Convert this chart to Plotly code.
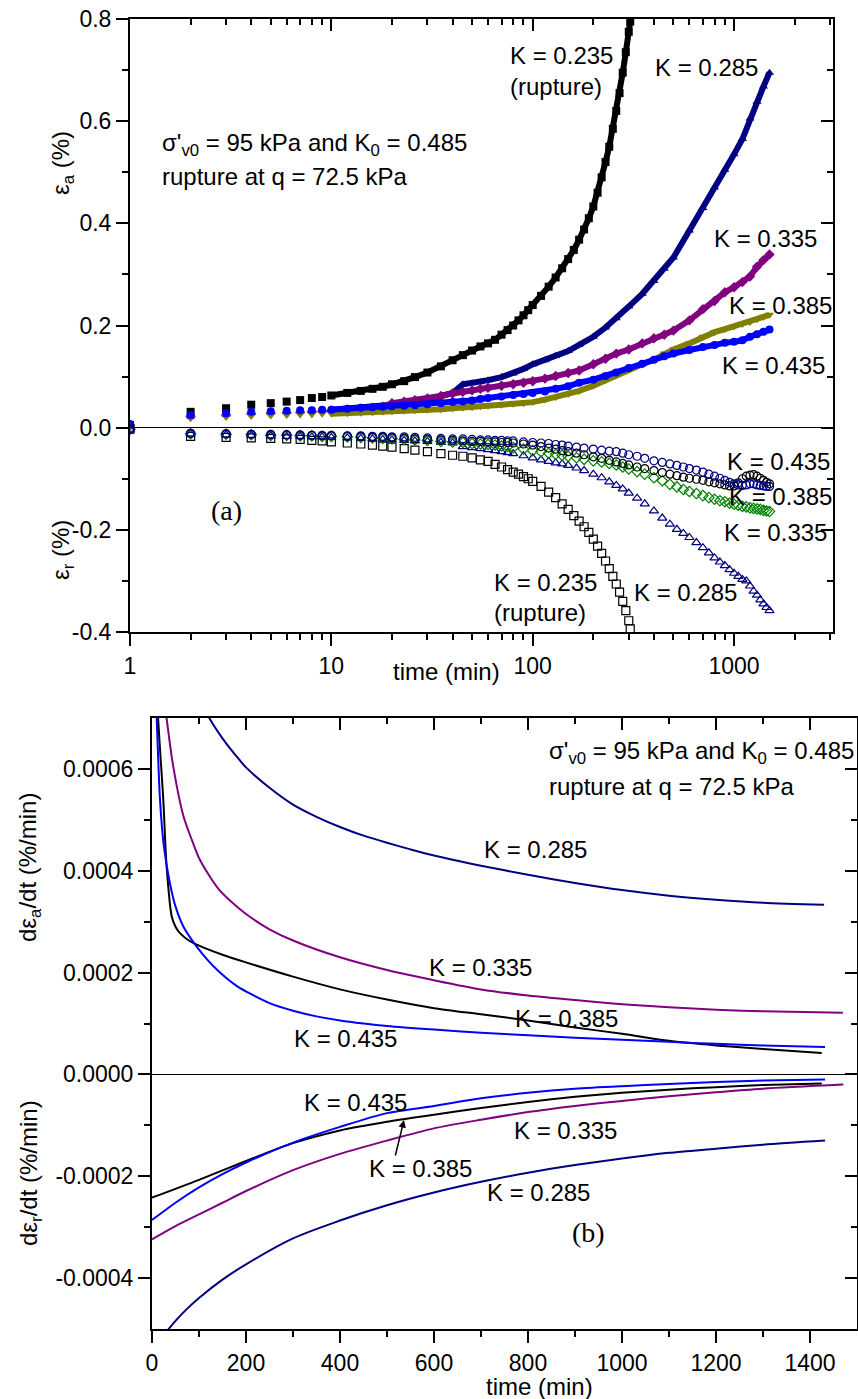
import plotly.graph_objects as go

W, H = 858, 1399
FONT = "Liberation Sans, Arial, sans-serif"
SERIF = "Liberation Serif, Times New Roman, serif"

NAVY = "#000080"
PURPLE = "#800080"
OLIVE = "#808000"
BLUE = "#0000FF"
GREEN = "#008000"
BLACK = "#000000"

# ---------------- (a) axial / radial strain vs time (log) ----------------
T_A = [1, 2, 3, 4, 5, 6, 7, 8, 9, 10, 12, 14, 16, 18, 20, 23, 26, 30, 35, 40,
       45, 50, 55, 60, 70, 80, 90, 100, 115, 130, 150, 170, 200, 230, 260, 300,
       350, 400, 450, 500, 600, 700, 800, 900, 1000, 1100, 1200, 1300, 1400, 1500]
T_RUP = [1, 2, 3, 4, 5, 6, 7, 8, 9, 10, 12, 14, 16, 18, 20, 23, 26, 30, 35, 40,
         45, 50, 55, 60, 65, 70, 75, 80, 85, 90, 95, 100, 110, 120, 130, 140, 150,
         160, 170, 180, 190, 200, 210, 220, 230, 240, 250, 260, 270, 280, 290, 300, 305]
T_R = [1, 2, 3, 4, 5, 6, 7, 8, 9, 10, 12, 14, 16, 18, 20, 23, 26, 30,
       35, 40, 45, 50, 55, 60, 65, 70, 75, 80, 90, 100, 110, 120, 130, 140, 150,
       165, 180, 200, 220, 240, 260, 280, 300, 330, 360, 400, 440, 480, 520, 560, 600,
       650, 700, 750, 800, 850, 900, 950, 1000, 1050, 1100, 1150, 1200, 1250, 1300,
       1350, 1400, 1450, 1500]

EA_235 = [0.005, 0.031, 0.038, 0.045, 0.048, 0.051, 0.054, 0.058, 0.060, 0.063,
          0.068, 0.072, 0.076, 0.080, 0.085, 0.091, 0.099, 0.108, 0.120, 0.132,
          0.142, 0.151, 0.159, 0.165, 0.172, 0.182, 0.191, 0.200, 0.210, 0.220,
          0.230, 0.240, 0.258, 0.276, 0.294, 0.312, 0.330, 0.348, 0.368, 0.388,
          0.410, 0.433, 0.460, 0.490, 0.520, 0.550, 0.585, 0.620, 0.655, 0.695,
          0.735, 0.775, 0.795]
EA_285 = [0.005, 0.022, 0.026, 0.029, 0.030, 0.031, 0.032, 0.033, 0.034, 0.035,
          0.037, 0.039, 0.041, 0.043, 0.045, 0.048, 0.051, 0.055, 0.062, 0.068,
          0.085, 0.087, 0.089, 0.093, 0.099, 0.106, 0.115, 0.124, 0.132, 0.141,
          0.150, 0.162, 0.178, 0.196, 0.214, 0.237, 0.262, 0.287, 0.311, 0.333,
          0.386, 0.430, 0.470, 0.505, 0.535, 0.565, 0.605, 0.638, 0.668, 0.695]
EA_335 = [0.005, 0.022, 0.025, 0.027, 0.028, 0.029, 0.030, 0.031, 0.032, 0.033,
          0.035, 0.037, 0.039, 0.041, 0.048, 0.051, 0.054, 0.057, 0.062, 0.067,
          0.070, 0.073, 0.076, 0.078, 0.082, 0.085, 0.088, 0.091, 0.096, 0.101,
          0.107, 0.112, 0.124, 0.135, 0.145, 0.153, 0.165, 0.175, 0.182, 0.190,
          0.210, 0.232, 0.248, 0.265, 0.275, 0.285, 0.296, 0.315, 0.328, 0.339]
EA_385 = [0.004, 0.019, 0.021, 0.023, 0.024, 0.025, 0.026, 0.026, 0.027, 0.027,
          0.028, 0.029, 0.030, 0.031, 0.032, 0.033, 0.034, 0.035, 0.036, 0.038,
          0.039, 0.040, 0.042, 0.043, 0.045, 0.047, 0.048, 0.050, 0.055, 0.060,
          0.066, 0.072, 0.082, 0.093, 0.103, 0.114, 0.124, 0.133, 0.145, 0.153,
          0.165, 0.178, 0.187, 0.193, 0.198, 0.203, 0.207, 0.212, 0.217, 0.221]
EA_435 = [0.007, 0.025, 0.028, 0.031, 0.032, 0.033, 0.034, 0.034, 0.035, 0.035,
          0.037, 0.039, 0.040, 0.041, 0.042, 0.043, 0.044, 0.046, 0.048, 0.050,
          0.051, 0.053, 0.056, 0.058, 0.061, 0.064, 0.066, 0.068, 0.071, 0.076,
          0.081, 0.088, 0.094, 0.101, 0.108, 0.117, 0.125, 0.133, 0.140, 0.145,
          0.152, 0.158, 0.162, 0.166, 0.168, 0.171, 0.178, 0.183, 0.188, 0.192]

ER_235 = [-0.003, -0.017, -0.019, -0.020, -0.021, -0.022, -0.023, -0.025, -0.026, -0.028,
          -0.030, -0.032, -0.034, -0.036, -0.038, -0.041, -0.044, -0.047, -0.051, -0.054,
          -0.056, -0.059, -0.063, -0.066, -0.072, -0.077, -0.082, -0.087, -0.091, -0.096,
          -0.100, -0.105, -0.115, -0.126, -0.137, -0.149, -0.160, -0.172, -0.183, -0.194,
          -0.205, -0.218, -0.232, -0.246, -0.261, -0.276, -0.291, -0.306, -0.322, -0.340,
          -0.358, -0.378, -0.394]
ER_285 = [-0.003, -0.012, -0.014, -0.015, -0.016, -0.017, -0.017, -0.018, -0.018, -0.019,
          -0.020, -0.021, -0.022, -0.023, -0.024, -0.025, -0.026, -0.027,
          -0.029, -0.030, -0.037, -0.039, -0.041, -0.043, -0.045, -0.047, -0.049, -0.051,
          -0.055, -0.059, -0.063, -0.066, -0.069, -0.071, -0.074,
          -0.079, -0.084, -0.091, -0.098, -0.106, -0.113, -0.120, -0.128, -0.138, -0.149,
          -0.163, -0.177, -0.189, -0.199, -0.207, -0.215,
          -0.225, -0.235, -0.245, -0.255, -0.263, -0.270, -0.278, -0.285, -0.291, -0.297,
          -0.300, -0.310, -0.320, -0.328, -0.337, -0.345, -0.352, -0.358]
ER_335 = [-0.003, -0.012, -0.013, -0.014, -0.015, -0.015, -0.016, -0.016, -0.017, -0.017,
          -0.018, -0.019, -0.020, -0.021, -0.022, -0.023, -0.024, -0.025,
          -0.027, -0.028, -0.029, -0.031, -0.032, -0.033, -0.034, -0.036, -0.037, -0.039,
          -0.042, -0.045, -0.047, -0.050, -0.052, -0.054, -0.056,
          -0.059, -0.062, -0.065, -0.067, -0.070, -0.073, -0.077, -0.081, -0.086, -0.091,
          -0.098, -0.104, -0.111, -0.116, -0.121, -0.125,
          -0.129, -0.133, -0.137, -0.140, -0.143, -0.145, -0.148, -0.150, -0.152, -0.154,
          -0.155, -0.157, -0.158, -0.159, -0.160, -0.162, -0.163, -0.164]
ER_385 = [-0.003, -0.011, -0.012, -0.013, -0.014, -0.014, -0.015, -0.015, -0.016, -0.016,
          -0.017, -0.018, -0.019, -0.019, -0.020, -0.021, -0.022, -0.023,
          -0.024, -0.025, -0.026, -0.027, -0.027, -0.028, -0.028, -0.029, -0.029, -0.030,
          -0.032, -0.034, -0.037, -0.040, -0.042, -0.045, -0.047,
          -0.050, -0.053, -0.057, -0.060, -0.064, -0.067, -0.070, -0.073, -0.077, -0.080,
          -0.084, -0.088, -0.091, -0.094, -0.097, -0.099,
          -0.101, -0.103, -0.106, -0.108, -0.110, -0.112, -0.114, -0.114, -0.108, -0.100,
          -0.095, -0.093, -0.092, -0.095, -0.099, -0.103, -0.107, -0.110]
ER_435 = [-0.003, -0.011, -0.012, -0.013, -0.013, -0.014, -0.014, -0.015, -0.015, -0.015,
          -0.016, -0.016, -0.017, -0.017, -0.018, -0.018, -0.019, -0.020,
          -0.021, -0.022, -0.022, -0.023, -0.024, -0.024, -0.025, -0.025, -0.026, -0.026,
          -0.028, -0.029, -0.030, -0.031, -0.033, -0.034, -0.036,
          -0.038, -0.040, -0.042, -0.044, -0.046, -0.047, -0.050, -0.053, -0.056, -0.060,
          -0.065, -0.068, -0.071, -0.074, -0.077, -0.080,
          -0.083, -0.087, -0.091, -0.095, -0.099, -0.103, -0.107, -0.110, -0.112, -0.113,
          -0.112, -0.110, -0.110, -0.112, -0.113, -0.114, -0.115, -0.115]

# ---------------- (b) strain rates vs time (linear) ----------------
TA_285 = [80, 100, 125, 150, 175, 200, 250, 300, 350, 400, 450, 500, 550, 600, 700, 800, 900, 1000,
          1100, 1200, 1300, 1430]
RA_285 = [0.00079, 0.00074, 0.000695, 0.00066, 0.00063, 0.000603, 0.000563, 0.00053, 0.000506, 0.000486,
          0.000469, 0.000455, 0.000442, 0.00043, 0.00041, 0.000392, 0.000376, 0.000362, 0.000351,
          0.000343, 0.000337, 0.000333]
TA_335 = [20, 31, 45, 67, 85, 100, 120, 140, 170, 200, 250, 300, 400, 500, 600, 700, 800, 900, 1000,
          1100, 1200, 1300, 1470]
RA_335 = [0.00078, 0.0007, 0.000606, 0.000507, 0.00046, 0.000425, 0.000393, 0.000366, 0.000338, 0.000315,
          0.000285, 0.000263, 0.00023, 0.000205, 0.000185, 0.000167, 0.000155, 0.000146, 0.000138,
          0.000132, 0.000127, 0.000124, 0.000121]
TA_385 = [10, 13, 24, 31, 42, 50, 60, 80, 100, 150, 200, 300, 400, 500, 600, 700, 800, 900, 1000, 1100,
          1200, 1300, 1425]
RA_385 = [0.00078, 0.0007, 0.00054, 0.00041, 0.00031, 0.00029, 0.000277, 0.000262, 0.000253, 0.000235,
          0.00022, 0.000192, 0.000167, 0.000147, 0.00013, 0.000118, 0.000106, 0.000092, 0.00008, 0.000066,
          0.000057, 0.00005, 0.000042]
TA_435 = [8, 10, 17, 25, 38, 50, 67, 95, 120, 140, 160, 180, 210, 250, 300, 350, 400, 450, 500, 600,
          700, 800, 900, 1000, 1100, 1200, 1300, 1432]
RA_435 = [0.00075, 0.0007, 0.00054, 0.00045, 0.000376, 0.00033, 0.00029, 0.000251, 0.000223, 0.000204,
          0.000188, 0.000174, 0.000158, 0.00014, 0.000125, 0.000114, 0.000106, 0.0001, 0.000095, 0.000088,
          0.000082, 0.000077, 0.000072, 0.000068, 0.000064, 0.00006, 0.000057, 0.000054]

TR_285 = [25, 50, 75, 100, 150, 200, 300, 400, 500, 600, 700, 800, 900, 1000, 1100, 1200, 1300, 1432]
RR_285 = [-0.000512, -0.000484, -0.00046, -0.000439, -0.000403, -0.000373, -0.000322, -0.000287,
          -0.000257, -0.000232, -0.000211, -0.000193, -0.000178, -0.000165, -0.000154, -0.000146,
          -0.000138, -0.00013]
TR_335 = [0, 50, 100, 150, 200, 300, 400, 500, 600, 700, 800, 900, 1000, 1100, 1200, 1300, 1471]
RR_335 = [-0.000324, -0.000298, -0.000275, -0.000252, -0.000229, -0.000188, -0.000156, -0.00013, -0.000106,
          -0.000089, -0.000074, -0.000062, -0.000052, -0.000043, -0.000035, -0.000028, -0.00002]
TR_385 = [0, 100, 200, 300, 400, 500, 600, 700, 800, 900, 1000, 1100, 1200, 1300, 1425]
RR_385 = [-0.000242, -0.000207, -0.00017, -0.000135, -0.00011, -0.000093, -0.000079, -0.000066, -0.000054,
          -0.000044, -0.000036, -0.00003, -0.000025, -0.000021, -0.000018]
TR_435 = [0, 50, 100, 150, 200, 300, 400, 500, 600, 700, 800, 900, 1000, 1100, 1200, 1300, 1432]
RR_435 = [-0.000286, -0.000252, -0.000222, -0.000196, -0.000173, -0.000134, -0.000103, -0.000076, -0.000062,
          -0.000047, -0.000036, -0.000028, -0.000023, -0.000019, -0.000015, -0.000012, -0.00001]

# ---------------- layout geometry (pixels) ----------------
A_X0, A_X1, A_Y0, A_Y1 = 130, 833, 19, 632
B_X0, B_X1, B_Y0, B_Y1 = 152, 857, 718, 1329


def px(x):
    return x / W


def py(y):
    return 1 - y / H


fig = go.Figure()


def strain_series(t, v, color, symbol, filled):
    if filled:
        dense = [(ti, vi) for ti, vi in zip(t, v) if ti >= 10]
        fig.add_trace(go.Scatter(
            x=[d[0] for d in dense], y=[d[1] for d in dense], mode="lines",
            line=dict(color=color, width=6), xaxis="x", yaxis="y",
            showlegend=False, hoverinfo="skip"))
        fig.add_trace(go.Scatter(
            x=t, y=v, mode="markers",
            marker=dict(symbol=symbol, size=8, color=color, line=dict(width=0)),
            xaxis="x", yaxis="y", showlegend=False))
    else:
        fig.add_trace(go.Scatter(
            x=t, y=v, mode="markers",
            marker=dict(symbol=symbol + "-open", size=8, color=color,
                        line=dict(width=1.2, color=color)),
            xaxis="x", yaxis="y", showlegend=False))


strain_series(T_RUP, EA_235, BLACK, "square", True)
strain_series(T_A, EA_285, NAVY, "triangle-up", True)
strain_series(T_A, EA_335, PURPLE, "diamond", True)
strain_series(T_A, EA_385, OLIVE, "triangle-down", True)
strain_series(T_A, EA_435, BLUE, "circle", True)

strain_series(T_RUP, ER_235, BLACK, "square", False)
strain_series(T_R, ER_285, NAVY, "triangle-up", False)
strain_series(T_R, ER_335, GREEN, "diamond", False)
strain_series(T_R, ER_385, BLACK, "circle", False)
strain_series(T_R, ER_435, NAVY, "circle", False)


def rate_line(t, v, color):
    fig.add_trace(go.Scatter(x=t, y=v, mode="lines",
                             line=dict(color=color, width=2, shape="spline", smoothing=0.8),
                             xaxis="x2", yaxis="y2", showlegend=False))


rate_line(TA_285, RA_285, NAVY)
rate_line(TA_335, RA_335, PURPLE)
rate_line(TA_385, RA_385, BLACK)
rate_line(TA_435, RA_435, BLUE)
rate_line(TR_285, RR_285, NAVY)
rate_line(TR_335, RR_335, PURPLE)
rate_line(TR_385, RR_385, BLACK)
rate_line(TR_435, RR_435, BLUE)

# empty traces so the mirrored (top / right) axes get drawn
for xa, ya in (("x3", "y"), ("x", "y3"), ("x4", "y2"), ("x2", "y4")):
    fig.add_trace(go.Scatter(x=[], y=[], xaxis=xa, yaxis=ya, showlegend=False, hoverinfo="skip"))

tick_font = dict(family=FONT, size=23, color="black")
common = dict(showgrid=False, showline=True, linecolor="black", linewidth=2,
              tickcolor="black", tickwidth=2, ticklen=12, tickfont=tick_font,
              automargin=False, fixedrange=True)

LOG_MAJOR = [1, 10, 100, 1000]
LOG_MINOR = [2, 3, 4, 5, 6, 7, 8, 9, 20, 30, 40, 50, 60, 70, 80, 90,
             200, 300, 400, 500, 600, 700, 800, 900, 2000, 3000]
A_YMAJ = [-0.4, -0.2, 0.0, 0.2, 0.4, 0.6, 0.8]
A_YTXT = ["-0.4", "-0.2", "0.0", "0.2", "0.4", "0.6", "0.8"]
A_YMIN = [-0.3, -0.1, 0.1, 0.3, 0.5, 0.7]
B_XMAJ = [0, 200, 400, 600, 800, 1000, 1200, 1400]
B_XMIN = [100, 300, 500, 700, 900, 1100, 1300]
B_YMAJ = [-0.0004, -0.0002, 0.0, 0.0002, 0.0004, 0.0006]
B_YTXT = ["-0.0004", "-0.0002", "0.0000", "0.0002", "0.0004", "0.0006"]
B_YMIN = [-0.0003, -0.0001, 0.0001, 0.0003, 0.0005]

A_XRANGE = [0, 3.4914]
A_YRANGE = [-0.4, 0.8]
B_XRANGE = [0, 1500]
B_YRANGE = [-0.0005, 0.0007]

dom_ax = [px(A_X0), px(A_X1)]
dom_ay = [py(A_Y1), py(A_Y0)]
dom_bx = [px(B_X0), px(B_X1)]
dom_by = [py(B_Y1), py(B_Y0)]


def minor(vals, direction):
    return dict(tickmode="array", tickvals=vals, ticks=direction, ticklen=6,
                tickwidth=2, tickcolor="black", showgrid=False)


fig.update_layout(
    template="none",
    width=W, height=H, autosize=False,
    margin=dict(l=0, r=0, t=0, b=0, pad=0, autoexpand=False),
    paper_bgcolor="white", plot_bgcolor="white",
    font=dict(family=FONT, size=23, color="black"),
    showlegend=False,
    xaxis=dict(domain=dom_ax, anchor="y", type="log", range=A_XRANGE,
               tickmode="array", tickvals=LOG_MAJOR, ticktext=["1", "10", "100", "1000"],
               ticks="outside", minor=minor(LOG_MINOR, "outside"), zeroline=False, **common),
    xaxis3=dict(overlaying="x", anchor="y", side="top", type="log", range=A_XRANGE,
                tickmode="array", tickvals=LOG_MAJOR, showticklabels=False,
                ticks="inside", minor=minor(LOG_MINOR, "inside"), zeroline=False, **common),
    yaxis=dict(domain=dom_ay, anchor="x", range=A_YRANGE, tickmode="array",
               tickvals=A_YMAJ, ticktext=A_YTXT, ticks="outside",
               minor=minor(A_YMIN, "outside"),
               zeroline=True, zerolinecolor="black", zerolinewidth=1.2, **common),
    yaxis3=dict(overlaying="y", anchor="x", side="right", range=A_YRANGE, tickmode="array",
                tickvals=A_YMAJ, showticklabels=False, ticks="inside",
                minor=minor(A_YMIN, "inside"), zeroline=False, **common),
    xaxis2=dict(domain=dom_bx, anchor="y2", range=B_XRANGE, tickmode="array",
                tickvals=B_XMAJ, ticktext=[str(v) for v in B_XMAJ], ticks="outside",
                minor=minor(B_XMIN, "outside"), zeroline=False, **common),
    xaxis4=dict(overlaying="x2", anchor="y2", side="top", range=B_XRANGE, tickmode="array",
                tickvals=B_XMAJ, showticklabels=False, ticks="inside",
                minor=minor(B_XMIN, "inside"), zeroline=False, **common),
    yaxis2=dict(domain=dom_by, anchor="x2", range=B_YRANGE, tickmode="array",
                tickvals=B_YMAJ, ticktext=B_YTXT, ticks="outside",
                minor=minor(B_YMIN, "outside"),
                zeroline=True, zerolinecolor="black", zerolinewidth=1.2, **common),
    yaxis4=dict(overlaying="y2", anchor="x2", side="right", range=B_YRANGE, tickmode="array",
                tickvals=B_YMAJ, showticklabels=False, ticks="inside",
                minor=minor(B_YMIN, "inside"), zeroline=False, **common),
)

annotations = []


def label(text, x, y, size=24, anchor="left", family=FONT, angle=0):
    annotations.append(dict(text=text, x=px(x), y=py(y), xref="paper", yref="paper",
                            xanchor=anchor, yanchor="middle", showarrow=False,
                            textangle=angle, font=dict(family=family, size=size, color="black")))


# panel (a) texts
label("σ'<sub>v0</sub> = 95 kPa and K<sub>0</sub> = 0.485", 160, 144)
label("rupture at q = 72.5 kPa", 160, 176)
label("K = 0.235", 508, 55)
label("(rupture)", 508, 87)
label("K = 0.285", 653, 67)
label("K = 0.335", 712, 238)
label("K = 0.385", 727, 305)
label("K = 0.435", 720, 365)
label("K = 0.435", 725, 462)
label("K = 0.385", 727, 497)
label("K = 0.335", 722, 532)
label("K = 0.235", 492, 582)
label("(rupture)", 492, 612)
label("K = 0.285", 632, 592)
label("(a)", 226, 510, size=28, anchor="center", family=SERIF)
label("time (min)", 446, 672, anchor="center")
label("ε<sub>a</sub> (%)", 62, 163, anchor="center", angle=-90)
label("ε<sub>r</sub> (%)", 62, 550, anchor="center", angle=-90)

# panel (b) texts
label("σ'<sub>v0</sub> = 95 kPa and K<sub>0</sub> = 0.485", 547, 752)
label("rupture at q = 72.5 kPa", 547, 786)
label("K = 0.285", 482, 850)
label("K = 0.335", 427, 967)
label("K = 0.385", 513, 1018)
label("K = 0.435", 292, 1038)
label("K = 0.435", 302, 1102)
label("K = 0.385", 367, 1168)
label("K = 0.335", 512, 1130)
label("K = 0.285", 485, 1192)
label("(b)", 588, 1232, size=28, anchor="center", family=SERIF)
label("time (min)", 539, 1386, anchor="center")
label("dε<sub>a</sub>/dt (%/min)", 30, 868, anchor="center", angle=-90)
label("dε<sub>r</sub>/dt (%/min)", 30, 1173, anchor="center", angle=-90)

# arrow pointing at the K = 0.385 radial-rate curve
annotations.append(dict(text="", x=px(404), y=py(1120), xref="paper", yref="paper",
                        showarrow=True, ax=-9, ay=37, arrowhead=2, arrowsize=1,
                        arrowwidth=1.5, arrowcolor="black"))

fig.update_layout(annotations=annotations)

fig.write_html("out.html", config={"displayModeBar": False})
